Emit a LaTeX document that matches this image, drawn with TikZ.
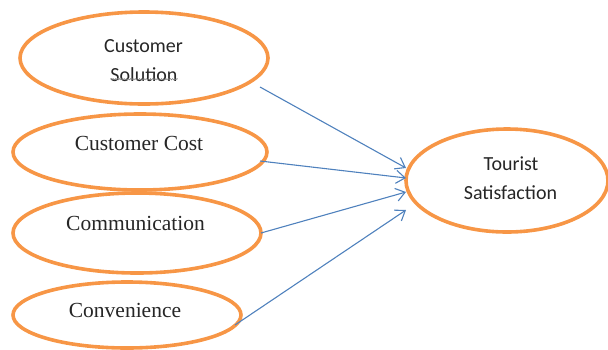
\documentclass[tikz,border=0pt]{standalone}
\usepackage{fontspec}
\setmainfont{Liberation Serif}
\newfontfamily\calib{Carlito}
\usetikzlibrary{shapes.geometric,arrows.meta,decorations.pathmorphing}
\definecolor{ovalorange}{HTML}{F79646}
\definecolor{arrowblue}{HTML}{4F81BD}
\tikzset{
  oval/.style={ellipse,draw=ovalorange,line width=3.6pt,inner sep=0pt,outer sep=0pt},
  sanslabel/.style={inner sep=0pt,font=\calib\fontsize{20}{24}\selectfont,text=black!85},
  seriflabel/.style={inner sep=0pt,font=\fontsize{21.5}{25}\selectfont,text=black!85},
  link/.style={draw=arrowblue,line width=1.1pt,-{Straight Barb[length=9pt,width=13pt,line width=1.1pt]}}
}
\begin{document}
\begin{tikzpicture}[x=1pt,y=-1pt]
\useasboundingbox (0,0) rectangle (608,349);
% ovals
\node[oval,minimum width=248pt,minimum height=92pt] (cs) at (144,58) {};
\node[oval,minimum width=254pt,minimum height=76pt] (cc) at (140,152) {};
\node[oval,minimum width=248pt,minimum height=80pt] (cm) at (137,233) {};
\node[oval,minimum width=228pt,minimum height=66pt] (cv) at (127,315) {};
\node[oval,minimum width=202pt,minimum height=103pt] (ts) at (507,180.5) {};
% labels
\node[sanslabel] (t1a) at (143.5,46) {Customer};
\node[sanslabel] (t1b) at (144,74.5) {Solution};
\draw[decorate,decoration={snake,amplitude=0.7pt,segment length=2.2pt},gray,line width=0.5pt]
  ([yshift=2.5pt]t1b.south west) -- ([yshift=2.5pt]t1b.south east);
\node[seriflabel] (t2) at (139,143) {Customer Cost};
\node[seriflabel] (t3) at (135.5,223) {Communication};
\node[seriflabel] (t4) at (125,310) {Convenience};
\node[sanslabel] (t5a) at (511,164) {Tourist};
\node[sanslabel] (t5b) at (510.5,192.5) {Satisfaction};
% connectors
\coordinate (s1) at ([shift={(116,29)}]cs.center);
\draw[link] (s1) -- ([shift={(-101,-12.5)}]ts.center);
\draw[link] ([shift={(120,9)}]cc.center) -- ([shift={(-101,-2.5)}]ts.center);
\draw[link] (cm.east) -- ([shift={(-101,11.5)}]ts.center);
\draw[link] ([shift={(108,10)}]cv.center) -- ([shift={(-101,29.5)}]ts.center);
\end{tikzpicture}
\end{document}
